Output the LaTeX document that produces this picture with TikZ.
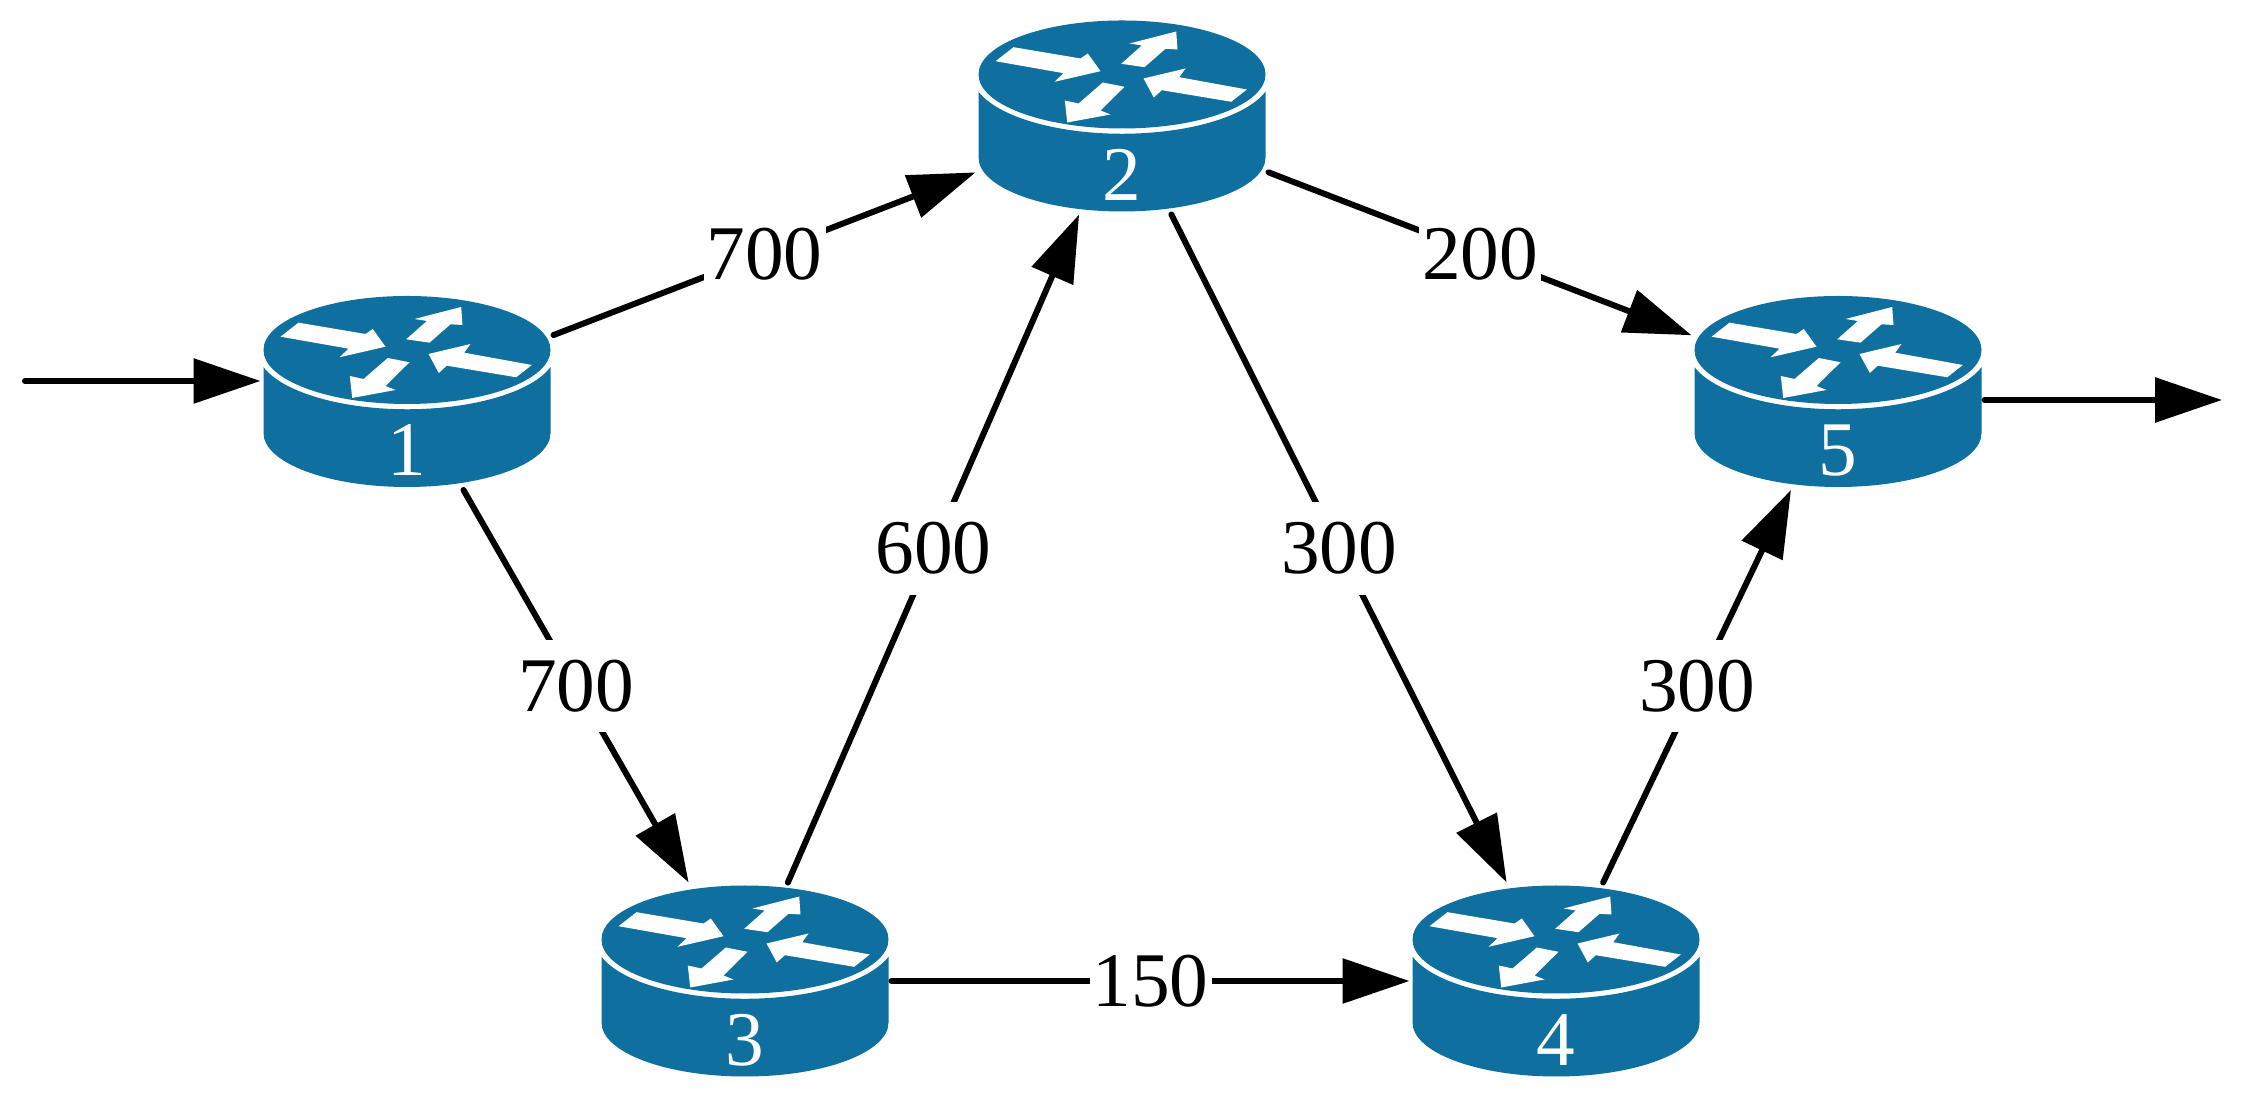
\documentclass[tikz,border=0pt]{standalone}
\usepackage{fontspec}
\setmainfont{Liberation Serif}
\usetikzlibrary{arrows.meta}
\definecolor{routerblue}{HTML}{0F6F9E}
\tikzset{
	pics/routerbody/.style={code={
		\fill[routerblue] (0, 0.415) circle[x radius=1.435cm, y radius=0.54cm];
		\fill[routerblue] (-1.435, 0.243) arc[start angle=196.9, end angle=343.1, x radius=1.5cm, y radius=0.593cm]
			-- (1.435, -0.415) arc[start angle=360, end angle=180, x radius=1.435cm, y radius=0.54cm] -- cycle;
		\fill[white] (-1.265, 0.548) -- (-1.085, 0.688) -- (-0.415, 0.575) -- (-0.342, 0.625) -- (-0.215, 0.448) -- (-0.675, 0.342) -- (-0.585, 0.428) -- cycle;
		\fill[white] (-0.008, 0.522) -- (0.225, 0.488) -- (0.435, 0.672) -- (0.555, 0.665) -- (0.542, 0.845) -- (0.075, 0.725) -- (0.198, 0.705) -- cycle;
		\fill[white] (0.215, 0.375) -- (0.635, 0.475) -- (0.572, 0.388) -- (1.248, 0.265) -- (1.092, 0.142) -- (0.398, 0.258) -- (0.318, 0.185) -- cycle;
		\fill[white] (-0.192, 0.335) -- (0.025, 0.292) -- (-0.215, 0.055) -- (-0.115, 0.015) -- (-0.548, -0.065) -- (-0.572, 0.155) -- (-0.435, 0.125) -- cycle;
	}},
	router/.style={rectangle, inner sep=0pt, outer sep=0.03cm, minimum width=2.87cm, text height=1.8cm, text depth=0.11cm,
		text=white, font=\fontsize{22}{26}\selectfont},
	arr/.style={line width=0.06cm, line cap=round, -{Triangle[length=0.67cm, width=0.44cm]}},
	rate/.style={fill=white, inner xsep=0.03cm, inner ysep=0.2cm, font=\fontsize{22}{26}\selectfont}
}
\begin{document}
\begin{tikzpicture}
	\useasboundingbox (0, 0) rectangle (22.41, 11.06);

	\path (4.07, 7.145) pic {routerbody} node[router] (r1) {1};
	\path (11.22, 9.9) pic {routerbody} node[router] (r2) {2};
	\path (7.45, 1.25) pic {routerbody} node[router] (r3) {3};
	\path (15.56, 1.25) pic {routerbody} node[router] (r4) {4};
	\path (18.38, 7.145) pic {routerbody} node[router] (r5) {5};

	\coordinate (in) at (0.25, 7.25);
	\coordinate (out) at (22.22, 7.06);

	\draw[arr] (in) -- (in -| r1.west);
	\draw[arr] (r5.east |- out) -- (out);

	\draw[arr] (r1) -- node[rate] {700} (r2);
	\draw[arr] (r1) -- node[rate] {700} (r3);
	\draw[arr] (r3) -- node[rate] {600} (r2);
	\draw[arr] (r2) -- node[rate] {200} (r5);
	\draw[arr] (r2) -- node[rate] {300} (r4);
	\draw[arr] (r3) -- node[rate] {150} (r4);
	\draw[arr] (r4) -- node[rate] {300} (r5);
\end{tikzpicture}
\end{document}
